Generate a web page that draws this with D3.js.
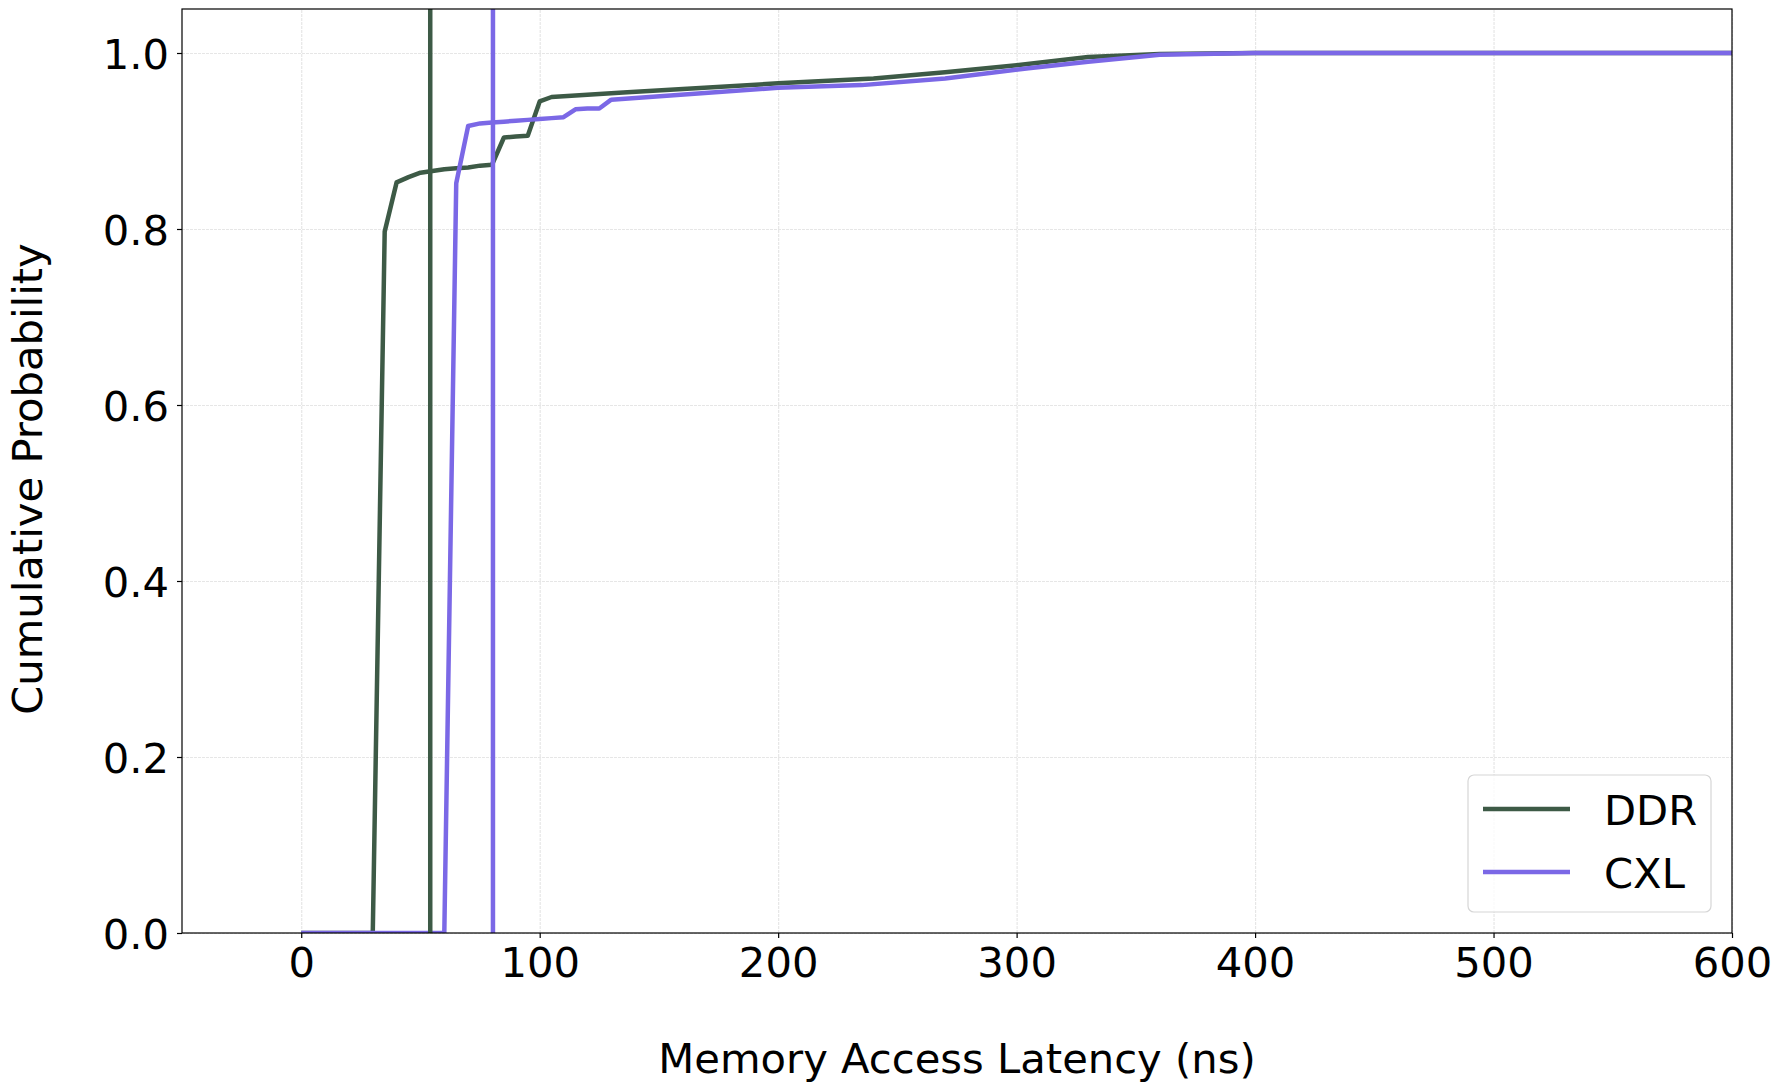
<!DOCTYPE html>
<html>
<head>
<meta charset="utf-8">
<script src="https://d3js.org/d3.v7.min.js"></script>
<style>
    body {
        margin: 0;
        background: white;
        font-family: "DejaVu Sans", sans-serif;
    }
    .tick text {
        font-size: 41.7px;
        font-family: "DejaVu Sans", sans-serif;
        fill: black;
    }
    .grid line {
        stroke: #e6e6e6;
        stroke-width: 1.2;
        stroke-dasharray: 3,1;
    }
</style>
</head>
<body>
<script>

var width = 1782,
    height = 1091;

// latency (ns) -> cumulative probability
var ddrLatency = [0, 30, 35, 40, 45, 50, 55, 60, 65, 70, 75, 80, 85, 90, 95, 100, 105, 135, 200, 240, 270, 300, 330, 360, 400, 600];
var ddrProb    = [0, 0, 0.797, 0.853, 0.859, 0.864, 0.866, 0.868, 0.869, 0.870, 0.872, 0.873, 0.904, 0.905, 0.906, 0.945, 0.950, 0.955, 0.9655, 0.971, 0.978, 0.986, 0.9955, 0.999, 1.0, 1.0];

var cxlLatency = [0, 60, 65, 70, 75, 80, 85, 90, 95, 100, 105, 110, 115, 120, 125, 130, 200, 235, 270, 305, 330, 360, 400, 600];
var cxlProb    = [0, 0, 0.852, 0.917, 0.920, 0.921, 0.922, 0.923, 0.924, 0.925, 0.926, 0.927, 0.936, 0.937, 0.937, 0.947, 0.9605, 0.9635, 0.971, 0.9826, 0.990, 0.998, 1.0, 1.0];

// average latency markers
var ddrMean = 54.1;
var cxlMean = 80.4;

var seriesNames  = ["DDR", "CXL"];
var seriesColors = ["#3d5a46", "#7b68e6"];

var xTicks = [0, 100, 200, 300, 400, 500, 600];
var yTicks = [0, 0.2, 0.4, 0.6, 0.8, 1.0];

var margin = {left: 182, right: 50, top: 9, bottom: 158};

var x = d3.scaleLinear()
    .domain([-50, 600])
    .range([margin.left, width - margin.right]);

var y = d3.scaleLinear()
    .domain([0, 1.05])
    .range([height - margin.bottom, margin.top]);

var svg = d3.select("body").append("svg")
    .attr("width", width)
    .attr("height", height);

svg.append("defs").append("clipPath")
    .attr("id", "plotclip")
  .append("rect")
    .attr("x", x.range()[0])
    .attr("y", y.range()[1])
    .attr("width", x.range()[1] - x.range()[0])
    .attr("height", y.range()[0] - y.range()[1]);

// grid
svg.append("g")
    .attr("class", "grid")
    .attr("transform", "translate(0," + y.range()[0] + ")")
    .call(d3.axisBottom(x).tickValues(xTicks).tickSize(-(y.range()[0] - y.range()[1])).tickFormat(""))
    .call(function(g) { g.select(".domain").remove(); });

svg.append("g")
    .attr("class", "grid")
    .attr("transform", "translate(" + x.range()[0] + ",0)")
    .call(d3.axisLeft(y).tickValues(yTicks).tickSize(-(x.range()[1] - x.range()[0])).tickFormat(""))
    .call(function(g) { g.select(".domain").remove(); });

var line = d3.line()
    .x(function(d) { return x(d[0]); })
    .y(function(d) { return y(d[1]); });

var plot = svg.append("g").attr("clip-path", "url(#plotclip)");

var series = [
    d3.zip(ddrLatency, ddrProb),
    d3.zip(cxlLatency, cxlProb)
];

plot.selectAll("path.cdf")
    .data(series)
    .enter().append("path")
    .attr("class", "cdf")
    .attr("d", line)
    .style("fill", "none")
    .style("stroke", function(d, i) { return seriesColors[i]; })
    .style("stroke-width", 4.5)
    .style("stroke-linejoin", "round");

plot.selectAll("line.mean")
    .data([ddrMean, cxlMean])
    .enter().append("line")
    .attr("class", "mean")
    .attr("x1", function(d) { return x(d); })
    .attr("x2", function(d) { return x(d); })
    .attr("y1", y.range()[0])
    .attr("y2", y.range()[1])
    .style("stroke", function(d, i) { return seriesColors[i]; })
    .style("stroke-width", 4.5);

// axes
var xAxis = svg.append("g")
    .attr("class", "axis")
    .attr("transform", "translate(0," + y.range()[0] + ")")
    .call(d3.axisBottom(x).tickValues(xTicks).tickSize(5).tickPadding(7).tickFormat(d3.format("d")));

var yAxis = svg.append("g")
    .attr("class", "axis")
    .attr("transform", "translate(" + x.range()[0] + ",0)")
    .call(d3.axisLeft(y).tickValues(yTicks).tickSize(5).tickPadding(8).tickFormat(d3.format(".1f")));

xAxis.select(".domain").remove();
yAxis.select(".domain").remove();
xAxis.selectAll(".tick text").attr("dy", "0.76em");
yAxis.selectAll(".tick text").attr("dy", "0.36em");
svg.selectAll(".axis .tick line").style("stroke", "black").style("stroke-width", 1.2);

// frame
svg.append("rect")
    .attr("x", x.range()[0])
    .attr("y", y.range()[1])
    .attr("width", x.range()[1] - x.range()[0])
    .attr("height", y.range()[0] - y.range()[1])
    .style("fill", "none")
    .style("stroke", "black")
    .style("stroke-width", 1.2);

// axis titles
svg.append("text")
    .attr("x", (x.range()[0] + x.range()[1]) / 2)
    .attr("y", 1073)
    .attr("text-anchor", "middle")
    .style("font-size", "41.7px")
    .text("Memory Access Latency (ns)");

svg.append("text")
    .attr("transform", "translate(42,479) rotate(-90)")
    .attr("text-anchor", "middle")
    .style("font-size", "41.7px")
    .text("Cumulative Probability");

// legend
var legend = svg.append("g");

legend.append("rect")
    .attr("x", 1468)
    .attr("y", 775)
    .attr("width", 243)
    .attr("height", 137)
    .attr("rx", 6)
    .style("fill", "white")
    .style("fill-opacity", 0.8)
    .style("stroke", "#d6d6d6")
    .style("stroke-width", 1.2);

var item = legend.selectAll("g.item")
    .data(seriesNames)
    .enter().append("g")
    .attr("class", "item")
    .attr("transform", function(d, i) { return "translate(0," + (i * 63) + ")"; });

item.append("line")
    .attr("x1", 1483)
    .attr("x2", 1570)
    .attr("y1", 809)
    .attr("y2", 809)
    .style("stroke", function(d, i) { return seriesColors[i]; })
    .style("stroke-width", 4.5);

item.append("text")
    .attr("x", 1604)
    .attr("y", 825)
    .style("font-size", "41.7px")
    .text(function(d) { return d; });

</script>
</body>
</html>
